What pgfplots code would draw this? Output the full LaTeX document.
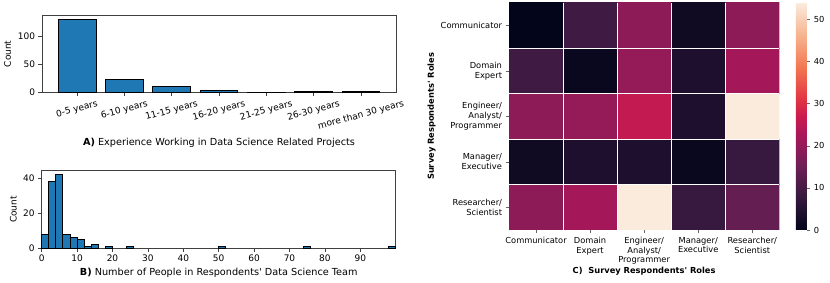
\documentclass[border=0pt]{standalone}
\usepackage{pgfplots}
\pgfplotsset{compat=1.18}
\usepackage{fontspec}
\setmainfont{DejaVu Sans}
\definecolor{mplblue}{HTML}{1F77B4}
\pgfplotsset{colormap={rocket}{rgb255(0cm)=(3,5,26) rgb255(2cm)=(53,25,62) rgb255(4cm)=(112,31,87) rgb255(6cm)=(173,23,89) rgb255(7cm)=(203,27,79) rgb255(8cm)=(225,51,66) rgb255(10cm)=(243,118,81) rgb255(12cm)=(246,180,143) rgb255(14cm)=(250,235,221)}}
\newcommand{\fA}{\fontsize{9}{10.8}\selectfont}
\newcommand{\fC}{\fontsize{8.3}{9.8}\selectfont}
\pgfplotsset{
  mplstyle/.style={
    scale only axis, anchor=south west,
    tick align=outside, major tick length=3.5pt,
    xtick pos=bottom, ytick pos=left,
    axis line style={black!75, line width=0.6pt},
    tick style={black!75, line width=0.6pt},
    font=\fA,
    /pgf/number format/assume math mode=true,
    every tick label/.append style={inner sep=0pt, outer sep=0pt},
    xticklabel style={yshift=-3.5pt},
    yticklabel style={xshift=-3.5pt},
  }
}
\begin{document}
\begin{tikzpicture}
\path[use as bounding box] (0,0) rectangle (830pt,283pt);

% Panel A
\begin{axis}[mplstyle,
  at={(42pt,190.3pt)}, width=354pt, height=77.7pt,
  xmin=-0.74, xmax=6.74, ymin=0, ymax=138.8,
  xtick={0,...,6},
  xticklabels={\rotatebox{15}{0-5 years},\rotatebox{15}{6-10 years},\rotatebox{15}{11-15 years},\rotatebox{15}{16-20 years},\rotatebox{15}{21-25 years},\rotatebox{15}{26-30 years},\rotatebox{15}{more than 30 years}},
  ytick={0,50,100},
  ylabel={Count}, ylabel style={at={(axis description cs:-0.0975,0.5)}, anchor=center},
  xlabel={\textbf{A)} Experience Working in Data Science Related Projects},
  xlabel style={at={(axis description cs:0.5,-0.651)}, anchor=center, font=\fontsize{9.7}{11}\selectfont},
]
\addplot[ybar, bar width=0.8, bar shift=0pt, fill=mplblue, draw=black, line width=0.9pt]
  coordinates {(0,131) (1,24) (2,11) (3,4) (4,1) (5,2) (6,2)};
\end{axis}

% Panel B
\begin{axis}[mplstyle,
  at={(41.7pt,34.7pt)}, width=354pt, height=77.6pt,
  xmin=0, xmax=100, ymin=0, ymax=44.1,
  xtick={0,10,...,90}, ytick={0,20,40},
  ylabel={Count}, ylabel style={at={(axis description cs:-0.080,0.5)}, anchor=center},
  xlabel={\textbf{B)} Number of People in Respondents\textquotesingle\ Data Science Team},
  xlabel style={at={(axis description cs:0.5,-0.322)}, anchor=center, font=\fontsize{9.7}{11}\selectfont},
  clip=false,
]
\addplot[ybar, bar width=2, bar shift=0pt, fill=mplblue, draw=black, line width=0.9pt]
  coordinates {(1,8) (3,38) (5,42) (7,8) (9,6) (11,5) (13,1) (15,2) (19,1) (25,1) (51,1) (75,1) (99,1)};
\end{axis}

% Panel C
\begin{axis}[
  scale only axis, anchor=south west,
  at={(509pt,53pt)}, width=270.3pt, height=227.3pt,
  xmin=-0.5, xmax=4.5, ymin=-0.5, ymax=4.5,
  xtick={0,...,4}, ytick={0,...,4},
  xticklabels={Communicator,{Domain\\Expert},{Engineer/\\Analyst/\\Programmer},{Manager/\\Executive},{Researcher/\\Scientist}},
  yticklabels={{Researcher/\\Scientist},{Manager/\\Executive},{Engineer/\\Analyst/\\Programmer},{Domain\\Expert},Communicator},
  xtick pos=bottom, ytick pos=left,
  axis line style={draw=none},
  axis on top,
  extra x ticks={0.5,1.5,2.5,3.5}, extra y ticks={0.5,1.5,2.5,3.5},
  extra x tick labels={}, extra y tick labels={},
  extra tick style={grid=major, major tick length=0pt, major grid style={white, line width=1pt}},
  tick align=outside, major tick length=3.5pt,
  tick style={black!60, line width=0.6pt},
  font=\fC,
  every tick label/.append style={inner sep=0pt, outer sep=0pt},
  xticklabel style={align=center, yshift=-3.5pt},
  yticklabel style={align=right, xshift=-3.5pt},
  ylabel={\bfseries Survey Respondents\textquotesingle\ Roles},
  ylabel style={at={(axis description cs:-0.286,0.5)}, anchor=center},
  xlabel={\bfseries C)\ \ Survey Respondents\textquotesingle\ Roles},
  xlabel style={at={(axis description cs:0.5,-0.1835)}, anchor=center},
  colormap name=rocket, point meta min=0, point meta max=54,
  colorbar,
  colorbar style={
    at={(parent axis.north east)}, anchor=north west, xshift=8pt,
    scale only axis, width=11pt, height=227.3pt,
    axis line style={draw=none},
    ytick={0,10,...,50}, yticklabel pos=right, ytick pos=right,
    tick align=outside, major tick length=3.5pt,
    tick style={black!60, line width=0.6pt},
    font=\fC,
    /pgf/number format/assume math mode=true,
    every tick label/.append style={inner sep=0pt, outer sep=0pt},
    yticklabel style={xshift=3.5pt},
  },
]
\addplot[matrix plot*, mesh/cols=5, point meta=explicit]
  table[meta=c] {
x y c
0 0 19
1 0 22
2 0 54
3 0 8
4 0 14
0 1 2
1 1 4
2 1 4
3 1 1
4 1 8
0 2 19
1 2 20
2 2 26
3 2 4
4 2 54
0 3 9
1 3 1
2 3 20
3 3 4
4 3 22
0 4 0
1 4 9
2 4 19
3 4 2
4 4 19
};
\end{axis}
\end{tikzpicture}
\end{document}
